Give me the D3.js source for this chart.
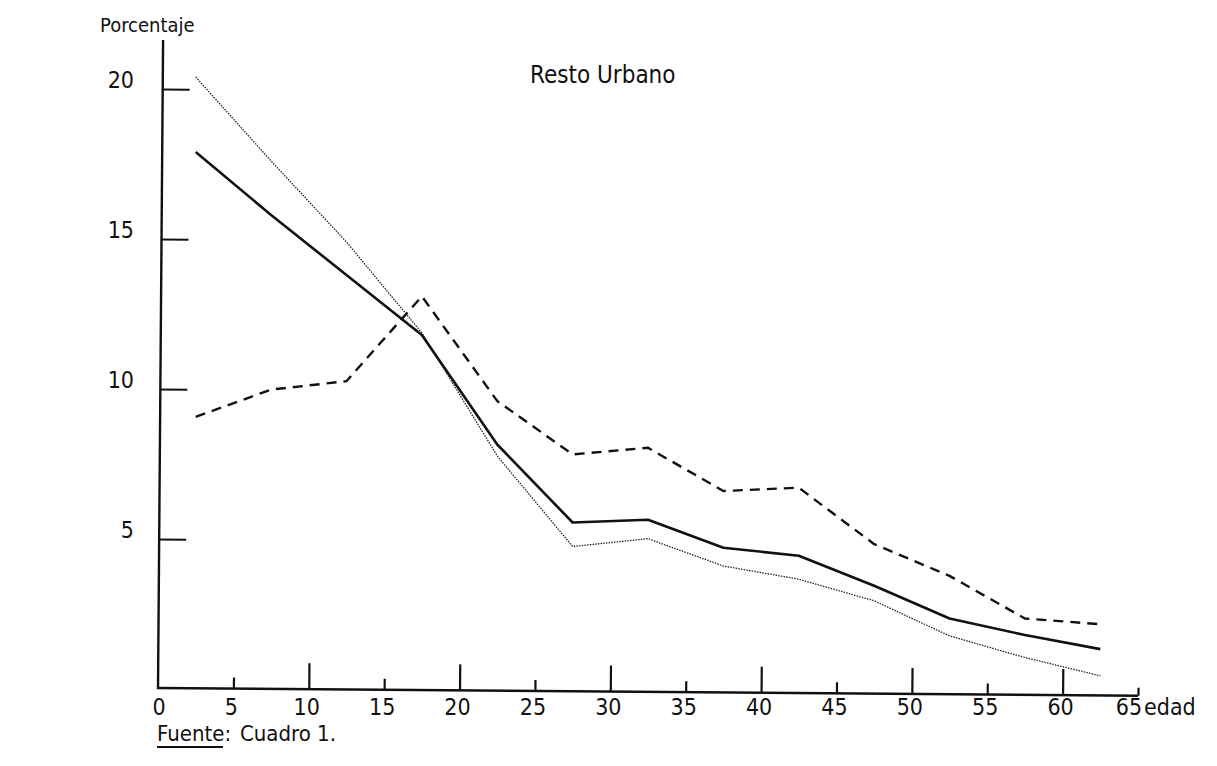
<!DOCTYPE html>
<html><head><meta charset="utf-8">
<script src="https://cdn.jsdelivr.net/npm/d3@7"></script>
<style>
html,body{margin:0;padding:0;background:#fff;}
svg text{font-family:"Liberation Sans Narrow","DejaVu Sans Condensed","DejaVu Sans",sans-serif;fill:#111;}
</style></head>
<body><svg id="c" width="1217" height="766"></svg>
<script>
const ages = [2.5, 7.5, 12.5, 17.5, 22.5, 27.5, 32.5, 37.5, 42.5, 47.5, 52.5, 57.5, 62.5];
const solidSeries = [17.9, 15.8, 13.8, 11.8, 8.15, 5.55, 5.64, 4.71, 4.44, 3.44, 2.35, 1.8, 1.33];
const dashedSeries = [9.07, 9.98, 10.26, 13.09, 9.6, 7.82, 8.04, 6.6, 6.71, 4.83, 3.77, 2.35, 2.16];
const dottedSeries = [20.4, 17.6, 14.9, 11.87, 7.77, 4.75, 5.01, 4.1, 3.66, 2.94, 1.77, 1.05, 0.44];
const xTicks = [5, 10, 15, 20, 25, 30, 35, 40, 45, 50, 55, 60, 65];
const xTickLabels = ["0", "5", "10", "15", "20", "25", "30", "35", "40", "45", "50", "55", "60", "65"];
const yTicks = [5, 10, 15, 20];
const titleText = "Resto Urbano";
const yTitle = "Porcentaje";
const xTitle = "edad";
const sourceLabel = "Fuente:";
const sourceText = "Cuadro 1.";

const svg = d3.select("#c");
const x = d3.scaleLinear().domain([0, 65]).range([158, 1138]);
const y = d3.scaleLinear().domain([0, 20]).range([689, 89]);

// axes group, slightly rotated like the scanned page
const ax = svg.append("g").attr("transform", "rotate(0.45,158,688)");
ax.append("line").attr("x1", 158).attr("x2", 158).attr("y1", 40).attr("y2", 689)
  .attr("stroke", "#111").attr("stroke-width", 2.4);
ax.append("line").attr("x1", 157).attr("x2", 1138).attr("y1", 688).attr("y2", 688)
  .attr("stroke", "#111").attr("stroke-width", 2.4);

// y ticks (inward, to the right)
const yAxis = d3.axisRight(y).tickValues(yTicks).tickSize(27).tickFormat("");
const gy = ax.append("g").attr("transform", "translate(158,0)").call(yAxis);
gy.select(".domain").remove();
gy.selectAll(".tick line").attr("stroke", "#111").attr("stroke-width", 2);

// x ticks (inward, upward) with alternating lengths
const xAxis = d3.axisTop(x).tickValues(xTicks).tickSize(0).tickFormat("");
const gx = ax.append("g").attr("transform", "translate(0,688)").call(xAxis);
gx.select(".domain").remove();
gx.selectAll(".tick line")
  .attr("y2", d => d === 65 ? -8 : (d % 10 === 0 ? -26 : -11))
  .attr("stroke", "#111").attr("stroke-width", 2.2);

// y labels
svg.selectAll("text.ylab").data(yTicks).enter().append("text")
  .attr("class", "ylab").attr("x", 134).attr("y", d => y(d) - 1)
  .attr("text-anchor", "end").style("font-size", "23px").text(d => d);

// x labels
svg.selectAll("text.xlab").data(xTickLabels).enter().append("text")
  .attr("class", "xlab")
  .attr("x", d => x(+d) + (d === "65" ? -9 : (d === "0" ? 1 : -2)))
  .attr("y", 715).attr("text-anchor", "middle").style("font-size", "23px").text(d => d);
svg.append("text").attr("x", 1144).attr("y", 715).style("font-size", "23px").text(xTitle);

// lines
const line = d3.line().x((d, i) => x(ages[i])).y(d => y(d));
svg.append("path").datum(dottedSeries).attr("d", line).attr("fill", "none")
  .attr("stroke", "#222").attr("stroke-width", 1.3).attr("stroke-dasharray", "1.5,1.2");
svg.append("path").datum(solidSeries).attr("d", line).attr("fill", "none")
  .attr("stroke", "#111").attr("stroke-width", 2.6).attr("stroke-linejoin", "round");
svg.append("path").datum(dashedSeries).attr("d", line).attr("fill", "none")
  .attr("stroke", "#111").attr("stroke-width", 2.4).attr("stroke-dasharray", "10,7");

// texts
svg.append("text").attr("x", 530).attr("y", 83).style("font-size", "24px").text(titleText);
svg.append("text").attr("x", 100).attr("y", 32).style("font-size", "20px").text(yTitle);
svg.append("text").attr("x", 157).attr("y", 741).style("font-size", "22px").text(sourceLabel);
svg.append("line").attr("x1", 157).attr("x2", 223).attr("y1", 747).attr("y2", 747)
  .attr("stroke", "#111").attr("stroke-width", 2);
svg.append("text").attr("x", 240).attr("y", 741).style("font-size", "22px").text(sourceText);
</script></body></html>
